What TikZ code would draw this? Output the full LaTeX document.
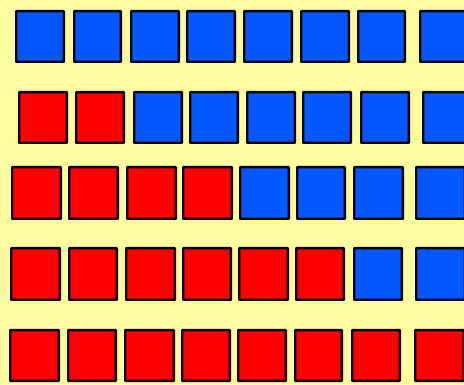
\documentclass[tikz,border=0pt]{standalone}
\definecolor{bg}{RGB}{255,251,160}
\definecolor{sqred}{RGB}{255,0,0}
\definecolor{sqblue}{RGB}{5,88,255}
\begin{document}
\begin{tikzpicture}[x=1pt,y=-1pt,
  sq/.style={draw=black,line width=2.4pt,rounded corners=0.4pt},
  r/.style={sq,fill=sqred},
  b/.style={sq,fill=sqblue}]
\useasboundingbox (0,0) rectangle (464,385);
\clip (0,0) rectangle (464,385);
\fill[bg] (0,0) rectangle (464,385);
% row 1
\foreach \a/\b/\s in {15/65/b,73/122/b,130/180/b,186/236/b,243/293/b,300/350/b,357/406/b,419/469/b}
  \draw[\s] (\a+1.2,10+1.2) rectangle (\b-1.2,63-1.2);
% row 2
\foreach \a/\b/\s in {18/68/r,75/125/r,133/183/b,189/239/b,246/296/b,302/352/b,360/410/b,422/472/b}
  \draw[\s] (\a+1.2,91+1.2) rectangle (\b-1.2,144-1.2);
% row 3
\foreach \a/\b/\s in {11/62/r,68/119/r,126/177/r,182/233/r,239/290/b,296/346/b,353/404/b,415/466/b}
  \draw[\s] (\a+1.2,166+1.2) rectangle (\b-1.2,220-1.2);
% row 4
\foreach \a/\b/\s in {10/61/r,68/118/r,125/176/r,182/232/r,238/289/r,295/345/r,353/403/b,415/466/b}
  \draw[\s] (\a+1.2,247+1.2) rectangle (\b-1.2,301-1.2);
% row 5
\foreach \a/\b/\s in {9/60/r,67/117/r,124/175/r,181/231/r,237/287/r,294/343/r,351/401/r,414/465/r}
  \draw[\s] (\a+1.2,329+1.2) rectangle (\b-1.2,382-1.2);
\end{tikzpicture}
\end{document}
